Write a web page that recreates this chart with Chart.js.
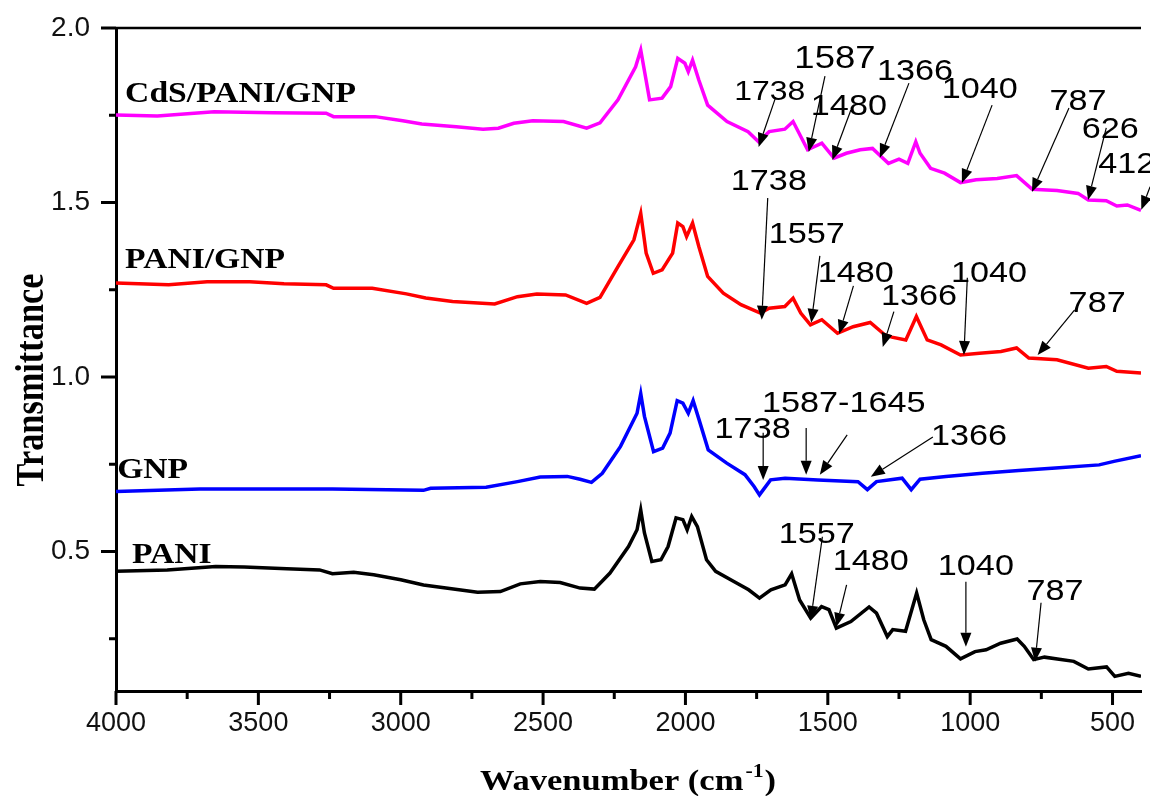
<!DOCTYPE html>
<html><head><meta charset="utf-8">
<script src="https://cdn.jsdelivr.net/npm/chart.js@4.4.1/dist/chart.umd.min.js"></script>
<style>html,body{margin:0;padding:0;background:#fff;}#wrap{width:1150px;height:796px;}</style>
</head><body><div id="wrap"><canvas id="c" width="1150" height="796"></canvas></div>
<script>
// ---- tick labels ----
const xTicks = [4000, 3500, 3000, 2500, 2000, 1500, 1000, 500];
const xMinorTicks = [3750, 3250, 2750, 2250, 1750, 1250, 750];
const yTicks = [0.5, 1.0, 1.5, 2.0];
const yMinorTicks = [0.25, 0.75, 1.25, 1.75];

// ---- series ----
const seriesNames = ["PANI", "GNP", "PANI/GNP", "CdS/PANI/GNP"];

const paniWn = [4000,3820,3650,3550,3400,3285,3240,3165,3095,3000,2920,2815,2730,2650,2580,2510,2440,2370,2320,2265,2200,2170,2157,2144,2118,2086,2061,2033,2009,1994,1978,1958,1926,1894,1830,1778,1740,1700,1650,1627,1599,1560,1522,1496,1470,1419,1355,1329,1291,1272,1227,1188,1163,1137,1085,1034,983,944,893,835,810,777,739,636,585,521,492,444,400];
const paniT = [0.443,0.447,0.457,0.455,0.450,0.447,0.436,0.440,0.433,0.419,0.404,0.392,0.383,0.385,0.407,0.414,0.411,0.395,0.392,0.438,0.514,0.562,0.619,0.553,0.471,0.476,0.514,0.596,0.591,0.562,0.600,0.571,0.476,0.443,0.414,0.390,0.366,0.390,0.404,0.436,0.361,0.309,0.342,0.333,0.280,0.299,0.341,0.323,0.256,0.276,0.271,0.381,0.304,0.247,0.228,0.192,0.213,0.218,0.237,0.249,0.228,0.190,0.197,0.185,0.163,0.169,0.142,0.151,0.142];

const gnpWn = [4000,3705,3240,2920,2895,2700,2590,2510,2415,2370,2330,2292,2228,2170,2157,2144,2112,2080,2054,2029,2009,1990,1973,1952,1920,1855,1791,1759,1740,1701,1650,1535,1394,1361,1329,1239,1207,1176,1085,957,829,700,547,495,400];
const gnpT = [0.672,0.679,0.679,0.675,0.681,0.684,0.700,0.713,0.715,0.707,0.698,0.724,0.801,0.896,0.952,0.887,0.786,0.796,0.839,0.932,0.925,0.896,0.932,0.877,0.791,0.753,0.720,0.686,0.662,0.705,0.710,0.705,0.700,0.677,0.700,0.710,0.677,0.707,0.715,0.724,0.732,0.739,0.748,0.758,0.774];

const paniGnpWn = [4000,3815,3680,3530,3410,3262,3236,3100,2980,2912,2818,2670,2590,2522,2421,2347,2300,2237,2181,2157,2138,2113,2082,2045,2027,2009,1996,1975,1953,1922,1867,1805,1737,1706,1651,1622,1595,1561,1521,1466,1411,1351,1300,1275,1226,1189,1151,1102,1034,967,892,837,794,695,585,522,485,400];
const paniGnpT = [1.269,1.264,1.273,1.273,1.267,1.264,1.254,1.254,1.238,1.226,1.216,1.209,1.230,1.238,1.235,1.211,1.228,1.316,1.393,1.469,1.355,1.297,1.307,1.355,1.441,1.431,1.402,1.441,1.374,1.288,1.240,1.207,1.183,1.197,1.202,1.226,1.183,1.149,1.164,1.125,1.144,1.156,1.121,1.114,1.106,1.173,1.106,1.092,1.063,1.068,1.073,1.083,1.054,1.049,1.025,1.030,1.016,1.011];

const cdsWn = [4000,3855,3655,3450,3262,3236,3090,2993,2926,2805,2711,2657,2603,2536,2428,2347,2300,2237,2175,2157,2126,2082,2052,2027,2002,1990,1975,1953,1922,1854,1780,1743,1706,1651,1622,1595,1571,1521,1478,1435,1386,1343,1312,1287,1250,1219,1191,1176,1139,1090,1034,979,905,837,782,695,621,585,522,485,448,400];
const cdsT = [1.751,1.748,1.760,1.757,1.756,1.746,1.746,1.734,1.725,1.717,1.710,1.713,1.727,1.734,1.732,1.713,1.728,1.794,1.889,1.937,1.794,1.799,1.832,1.913,1.899,1.875,1.908,1.851,1.779,1.732,1.703,1.674,1.703,1.710,1.732,1.689,1.651,1.670,1.627,1.641,1.651,1.655,1.631,1.612,1.624,1.612,1.674,1.641,1.598,1.584,1.557,1.565,1.569,1.577,1.538,1.534,1.526,1.507,1.505,1.490,1.493,1.477];

// ---- peak annotations (data units: wavenumber, transmittance) ----
const peakNotes = [
  // CdS/PANI/GNP
  {t:"1738", at:[1704,1.794], arrows:[[[1683,1.802],[1743,1.659]]], s:0.93},
  {t:"1587", at:[1475,1.885], arrows:[[[1510,1.862],[1567,1.645]]], s:1.05},
  {t:"1480", at:[1426,1.751], arrows:[[[1419,1.765],[1484,1.622]]], s:1.0},
  {t:"1366", at:[1194,1.851], arrows:[[[1215,1.842],[1317,1.628]]], s:1.0},
  {t:"1040", at:[966,1.799], arrows:[[[923,1.779],[1029,1.556]]], s:1.0},
  {t:"787", at:[621,1.765], arrows:[[[653,1.771],[783,1.530]]], s:1.0},
  {t:"626", at:[508,1.685], arrows:[[[522,1.714],[586,1.507]]], s:1.0},
  {t:"412", at:[450,1.585], arrows:[[[368,1.545],[399,1.479]]], s:1.0},
  // PANI/GNP
  {t:"1738", at:[1707,1.536], arrows:[[[1711,1.513],[1732,1.164]]], s:1.0},
  {t:"1557", at:[1574,1.384], arrows:[[[1528,1.347],[1558,1.155]]], s:1.0},
  {t:"1480", at:[1402,1.272], arrows:[[[1410,1.261],[1460,1.123]]], s:1.0},
  {t:"1366", at:[1180,1.207], arrows:[[[1268,1.187],[1307,1.086]]], s:1.0},
  {t:"1040", at:[934,1.272], arrows:[[[1010,1.284],[1022,1.063]]], s:1.0},
  {t:"787", at:[554,1.186], arrows:[[[633,1.192],[763,1.063]]], s:1.0},
  // GNP
  {t:"1738", at:[1764,0.826], arrows:[[[1727,0.840],[1727,0.705]]], s:1.0},
  {t:"1587-1645", at:[1444,0.900], arrows:[[[1576,0.854],[1576,0.720]],[[1432,0.834],[1528,0.720]]], s:1.0},
  {t:"1366", at:[1004,0.805], arrows:[[[1131,0.828],[1349,0.714]]], s:1.0},
  // PANI
  {t:"1557", at:[1539,0.525], arrows:[[[1519,0.542],[1560,0.304]]], s:1.0},
  {t:"1480", at:[1349,0.447], arrows:[[[1434,0.404],[1470,0.284]]], s:1.0},
  {t:"1040", at:[980,0.433], arrows:[[[1015,0.413],[1015,0.227]]], s:1.0},
  {t:"787", at:[702,0.362], arrows:[[[751,0.353],[772,0.184]]], s:1.0}
];

// series name labels (left x, baseline) in data units
const nameLabels = [
  {t:"CdS/PANI/GNP", at:[3968,1.788]},
  {t:"PANI/GNP", at:[3968,1.313]},
  {t:"GNP", at:[3996,0.711]},
  {t:"PANI", at:[3944,0.467]}
];

function pts(wn, t){ return wn.map((w,i)=>({x:w, y:t[i]})); }

const SANS = "'Liberation Sans', Arial, sans-serif";
const SERIF = "'Liberation Serif', 'Times New Roman', serif";

function stretchText(ctx, text, x, y, sx, sy, align){
  ctx.save();
  ctx.translate(x, y);
  ctx.scale(sx, sy);
  ctx.textAlign = align;
  ctx.fillText(text, 0, 0);
  ctx.restore();
}

const decor = {
  id: 'decor',
  afterDraw(chart){
    const ctx = chart.ctx;
    const xs = chart.scales.x, ys = chart.scales.y;
    const a = chart.chartArea;
    ctx.save();
    ctx.strokeStyle = '#000';
    ctx.fillStyle = '#000';
    // top frame line
    ctx.lineWidth = 2.5;
    ctx.beginPath(); ctx.moveTo(a.left, a.top); ctx.lineTo(a.right, a.top); ctx.stroke();
    // ticks
    ctx.lineWidth = 3;
    ctx.beginPath();
    xTicks.forEach(v=>{const p=xs.getPixelForValue(v); ctx.moveTo(p,a.bottom); ctx.lineTo(p,a.bottom+14);});
    xMinorTicks.forEach(v=>{const p=xs.getPixelForValue(v); ctx.moveTo(p,a.bottom); ctx.lineTo(p,a.bottom+8);});
    yTicks.forEach(v=>{const p=ys.getPixelForValue(v); ctx.moveTo(a.left-15,p); ctx.lineTo(a.left,p);});
    yMinorTicks.forEach(v=>{const p=ys.getPixelForValue(v); ctx.moveTo(a.left-7,p); ctx.lineTo(a.left,p);});
    ctx.stroke();

    // peak annotations
    ctx.textBaseline = 'alphabetic';
    peakNotes.forEach(n=>{
      const tx = xs.getPixelForValue(n.at[0]), ty = ys.getPixelForValue(n.at[1]);
      ctx.font = Math.round(30*n.s) + "px " + SANS;
      stretchText(ctx, n.t, tx, ty, 1.14, 1, 'center');
      n.arrows.forEach(ar=>{
        const x1 = xs.getPixelForValue(ar[0][0]), y1 = ys.getPixelForValue(ar[0][1]);
        const x2 = xs.getPixelForValue(ar[1][0]), y2 = ys.getPixelForValue(ar[1][1]);
        const ang = Math.atan2(y2-y1, x2-x1);
        const L = 14, W = 5.5;
        const bx = x2 - L*Math.cos(ang), by = y2 - L*Math.sin(ang);
        ctx.lineWidth = 1.2;
        ctx.beginPath(); ctx.moveTo(x1,y1); ctx.lineTo(bx,by); ctx.stroke();
        ctx.beginPath();
        ctx.moveTo(x2,y2);
        ctx.lineTo(bx + W*Math.sin(ang), by - W*Math.cos(ang));
        ctx.lineTo(bx - W*Math.sin(ang), by + W*Math.cos(ang));
        ctx.closePath(); ctx.fill();
      });
    });

    // series names
    ctx.font = "bold 30px " + SERIF;
    nameLabels.forEach(l=>{
      stretchText(ctx, l.t, xs.getPixelForValue(l.at[0]), ys.getPixelForValue(l.at[1]), 1.12, 1, 'left');
    });

    // y title
    ctx.save();
    ctx.translate(43, 380);
    ctx.rotate(-Math.PI/2);
    ctx.scale(1.04, 1.2);
    ctx.font = "bold 33px " + SERIF;
    ctx.textAlign = 'center';
    ctx.fillText("Transmittance", 0, 0);
    ctx.restore();

    // x title with superscript
    const sx = 1.15;
    const main = "Wavenumber (cm", sup = "-1", close = ")";
    ctx.font = "bold 30px " + SERIF;
    const w1 = ctx.measureText(main).width*sx, w3 = ctx.measureText(close).width*sx;
    ctx.font = "bold 19px " + SERIF;
    const w2 = ctx.measureText(sup).width*sx + 3;
    const total = w1 + w2 + w3;
    let x0 = 628 - total/2;
    const base = 790;
    ctx.font = "bold 30px " + SERIF;
    stretchText(ctx, main, x0, base, sx, 1, 'left');
    ctx.font = "bold 19px " + SERIF;
    stretchText(ctx, sup, x0 + w1 + 2, base - 13, sx, 1, 'left');
    ctx.font = "bold 30px " + SERIF;
    stretchText(ctx, close, x0 + w1 + w2, base, sx, 1, 'left');
    ctx.restore();
  }
};

const lineDs = (label, data, color) => ({
  label, data, borderColor: color, backgroundColor: color,
  showLine: true, pointRadius: 0, borderWidth: 3.5, tension: 0, fill: false
});

new Chart(document.getElementById('c'), {
  type: 'scatter',
  data: {
    datasets: [
      lineDs(seriesNames[0], pts(paniWn, paniT), '#000000'),
      lineDs(seriesNames[1], pts(gnpWn, gnpT), '#0000ff'),
      lineDs(seriesNames[2], pts(paniGnpWn, paniGnpT), '#ff0000'),
      lineDs(seriesNames[3], pts(cdsWn, cdsT), '#ff00ff')
    ]
  },
  options: {
    responsive: false,
    animation: false,
    devicePixelRatio: 1,
    layout: { padding: { top: 28, right: 9, left: 0, bottom: 0 } },
    plugins: { legend: { display: false }, tooltip: { enabled: false }, title: { display: false } },
    scales: {
      x: {
        type: 'linear', reverse: true, min: 400, max: 4000,
        afterBuildTicks: s => { s.ticks = xTicks.map(v => ({ value: v })); },
        afterFit: s => { s.height = 105; s.paddingLeft = 0; s.paddingRight = 0; },
        ticks: { autoSkip: false, maxRotation: 0, padding: 16, color: '#111',
                 font: { family: SANS, size: 27 }, callback: v => String(v) },
        grid: { display: false, drawTicks: false },
        border: { display: true, color: '#000', width: 3 }
      },
      y: {
        type: 'linear', min: 0.1, max: 2.0,
        afterBuildTicks: s => { s.ticks = yTicks.map(v => ({ value: v })); },
        afterFit: s => { s.width = 116; s.paddingTop = 0; s.paddingBottom = 0; },
        ticks: { padding: 26, color: '#111', font: { family: SANS, size: 28 },
                 callback: v => Number(v).toFixed(1) },
        grid: { display: false, drawTicks: false },
        border: { display: true, color: '#000', width: 3 }
      }
    }
  },
  plugins: [decor]
});
</script>
</body></html>
